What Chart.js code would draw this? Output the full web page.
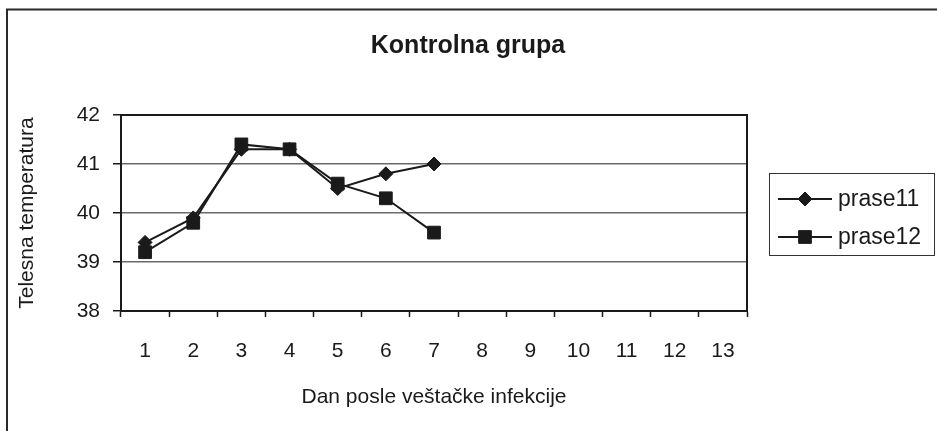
<!DOCTYPE html>
<html>
<head>
<meta charset="utf-8">
<script src="https://cdn.jsdelivr.net/npm/chart.js@4/dist/chart.umd.min.js"></script>
<style>
html,body{margin:0;padding:0;background:#fff;}
#wrap{width:937px;height:431px;position:relative;}
</style>
</head>
<body>
<div id="wrap"><canvas id="c" width="937" height="431"></canvas></div>
<script>
const TITLE = 'Kontrolna grupa';
const X_TITLE = 'Dan posle veštačke infekcije';
const Y_TITLE = 'Telesna temperatura';
const days = ['1','2','3','4','5','6','7','8','9','10','11','12','13'];
const seriesNames = ['prase11', 'prase12'];
const prase11 = [39.4, 39.9, 41.3, 41.3, 40.5, 40.8, 41.0, null, null, null, null, null, null];
const prase12 = [39.2, 39.8, 41.4, 41.3, 40.6, 40.3, 39.6, null, null, null, null, null, null];
const yMin = 38, yMax = 42, yStep = 1;

const FONT = '"Liberation Sans", Arial, Helvetica, sans-serif';
Chart.defaults.font.family = FONT;
Chart.defaults.color = '#1a1a1a';

const framePlugin = {
  id: 'frame',
  beforeDraw(chart) {
    const ctx = chart.ctx;
    ctx.save();
    ctx.fillStyle = '#fff';
    ctx.fillRect(0, 0, chart.width, chart.height);
    ctx.strokeStyle = '#2a2a2a';
    ctx.lineWidth = 2;
    ctx.strokeRect(7, 9.5, 1000, 1000);
    ctx.restore();
  },
  beforeDatasetsDraw(chart) {
    const a = chart.chartArea, ctx = chart.ctx;
    ctx.save();
    ctx.strokeStyle = '#1a1a1a';
    ctx.lineWidth = 2;
    ctx.strokeRect(a.left, a.top, a.right - a.left, a.bottom - a.top);
    ctx.restore();
  },
  afterDraw(chart) {
    const ctx = chart.ctx;
    // title
    ctx.save();
    ctx.fillStyle = '#1a1a1a';
    ctx.font = 'bold 25px ' + FONT;
    ctx.textAlign = 'center';
    ctx.textBaseline = 'alphabetic';
    ctx.fillText(TITLE, 468, 53);
    ctx.restore();
    // legend
    ctx.save();
    ctx.strokeStyle = '#333';
    ctx.lineWidth = 1;
    ctx.strokeRect(769.5, 173.5, 165, 82);
    chart.data.datasets.forEach((ds, i) => {
      const y = 199 + i * 38;
      ctx.strokeStyle = ds.borderColor;
      ctx.lineWidth = 2;
      ctx.beginPath(); ctx.moveTo(778, y); ctx.lineTo(832, y); ctx.stroke();
      ctx.fillStyle = ds.pointBackgroundColor;
      ctx.strokeStyle = ds.pointBorderColor;
      ctx.lineWidth = 1;
      Chart.helpers.drawPoint(ctx, {pointStyle: ds.pointStyle, rotation: 0, radius: ds.pointRadius, borderWidth: 1}, 805, y);
      ctx.fillStyle = '#1a1a1a';
      ctx.font = '23px ' + FONT;
      ctx.textAlign = 'left';
      ctx.textBaseline = 'middle';
      ctx.fillText(ds.label, 838, y + 1);
    });
    ctx.restore();
  }
};

new Chart(document.getElementById('c'), {
  type: 'line',
  data: {
    labels: days,
    datasets: [
      {
        label: seriesNames[0], data: prase11,
        borderColor: '#1a1a1a', borderWidth: 2,
        pointStyle: 'rectRot', pointRadius: 7, pointHoverRadius: 7,
        pointBackgroundColor: '#1a1a1a', pointBorderColor: '#1a1a1a', pointBorderWidth: 1,
        tension: 0, spanGaps: false
      },
      {
        label: seriesNames[1], data: prase12,
        borderColor: '#1a1a1a', borderWidth: 2,
        pointStyle: 'rect', pointRadius: 9, pointHoverRadius: 9,
        pointBackgroundColor: '#1a1a1a', pointBorderColor: '#1a1a1a', pointBorderWidth: 1,
        tension: 0, spanGaps: false
      }
    ]
  },
  options: {
    responsive: false,
    devicePixelRatio: 1,
    animation: false,
    events: [],
    layout: { padding: { top: 115, left: 0, right: 190, bottom: 0 } },
    plugins: { legend: { display: false }, title: { display: false }, tooltip: { enabled: false } },
    scales: {
      x: {
        type: 'category',
        offset: true,
        grid: { offset: true, drawOnChartArea: false, drawTicks: true, tickLength: 6, tickColor: '#1a1a1a', tickWidth: 1.5 },
        border: { display: true, color: '#1a1a1a', width: 2 },
        ticks: { autoSkip: false, maxRotation: 0, minRotation: 0, padding: 22, font: { size: 21 }, color: '#1a1a1a' },
        title: { display: true, text: X_TITLE, font: { size: 21 }, color: '#1a1a1a', padding: { top: 0, bottom: 21 } },
        afterFit(scale) { scale.height = 120; }
      },
      y: {
        min: yMin, max: yMax,
        grid: { color: '#6a6a6a', lineWidth: 1.5, drawTicks: true, tickLength: 8, tickColor: '#1a1a1a', tickWidth: 1.5 },
        border: { display: true, color: '#1a1a1a', width: 2 },
        ticks: { stepSize: yStep, padding: 13, font: { size: 21 }, color: '#1a1a1a' },
        title: { display: true, text: Y_TITLE, font: { size: 21 }, color: '#1a1a1a', padding: { top: 15, bottom: 0 } },
        afterFit(scale) { scale.width = 121; }
      }
    }
  },
  plugins: [framePlugin]
});
</script>
</body>
</html>
